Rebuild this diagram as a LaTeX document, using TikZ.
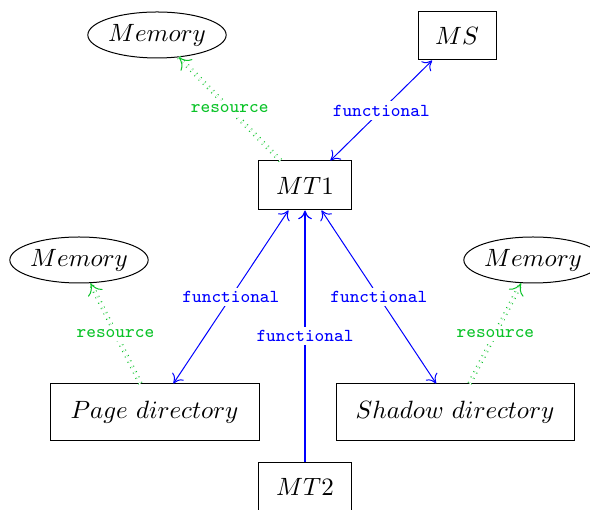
\documentclass[tikz,border=0pt]{standalone}
\usetikzlibrary{shapes.geometric, arrows.meta}
\definecolor{resgreen}{RGB}{10,195,40}
\tikzset{
  box/.style={draw, rectangle, inner sep=0pt},
  mem/.style={draw, ellipse, inner sep=0pt, minimum width=54.4pt, minimum height=18.4pt},
  func/.style={draw=blue, {To[length=3.5pt,width=5.5pt]}-{To[length=3.5pt,width=5.5pt]}},
  funcone/.style={draw=blue, line width=0.45pt, -{To[length=3.5pt,width=5.5pt]}},
  res/.style={draw=resgreen, double, double distance=1pt, dotted},
  restip/.style={draw=resgreen, solid, -{To[length=4.5pt,width=6.5pt]}},
  flabel/.style={text=blue, fill=white, font=\ttfamily\fontsize{7.3}{9}\selectfont, inner sep=1.5pt},
  rlabel/.style={text=resgreen, fill=white, font=\ttfamily\fontsize{7.3}{9}\selectfont, inner sep=1.5pt},
}
\begin{document}
\begin{tikzpicture}[x=0.4pt, y=-0.4pt]
  \clip (0,0) rectangle (590,510);

  % nodes
  \node[mem] (memtop) at (157,35) {$Memory$};
  \node[box, minimum width=31.2pt, minimum height=19.2pt] (ms) at (457,36) {$MS$};
  \node[box, minimum width=37.2pt, minimum height=19.6pt] (mt1) at (305,185.5) {$MT1$};
  \node[mem] (memleft) at (79,260) {$Memory$};
  \node[mem] (memright) at (533,260) {$Memory$};
  \node[box, minimum width=83.6pt, minimum height=22.4pt] (pagedir) at (154.5,412) {$Page\ directory$};
  \node[box, minimum width=95.2pt, minimum height=22.4pt] (shadowdir) at (455,412) {$Shadow\ directory$};
  \node[box, minimum width=37.2pt, minimum height=19.6pt] (mt2) at (305,486.5) {$MT2$};

  % resource edges: double dotted line, solid open tip at the memory end
  \draw[res] (mt1) -- node[rlabel] {resource} (memtop)
    coordinate[pos=0.99] (ra1) coordinate[pos=1] (ra2);
  \draw[restip] (ra1) -- (ra2);
  \draw[res] (pagedir) -- node[rlabel] {resource} (memleft)
    coordinate[pos=0.99] (rb1) coordinate[pos=1] (rb2);
  \draw[restip] (rb1) -- (rb2);
  \draw[res] (shadowdir) -- node[rlabel] {resource} (memright)
    coordinate[pos=0.99] (rc1) coordinate[pos=1] (rc2);
  \draw[restip] (rc1) -- (rc2);

  % functional edges
  \draw[func] (mt1) -- node[flabel] {functional} (ms);
  \draw[func] (mt1) -- node[flabel] {functional} (pagedir);
  \draw[func] (mt1) -- node[flabel] {functional} (shadowdir);
  \draw[funcone] (mt2) -- node[flabel] {functional} (mt1);
\end{tikzpicture}
\end{document}
